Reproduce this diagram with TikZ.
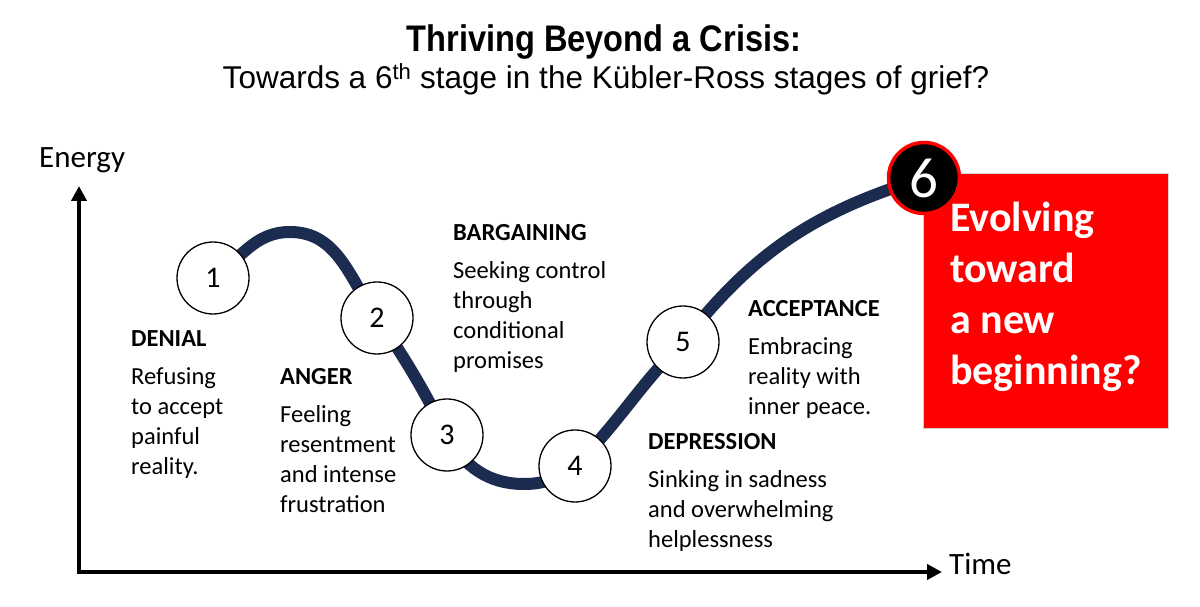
\documentclass[tikz,border=0pt]{standalone}
\usepackage{graphicx}
\usepackage{fontspec}
\setmainfont{Carlito}
\newfontfamily\titlefont{Liberation Sans}
\usetikzlibrary{arrows.meta,backgrounds}
\definecolor{navy}{RGB}{28,43,80}
\definecolor{boxred}{RGB}{255,0,0}
\begin{document}
\begin{tikzpicture}[x=1pt,y=1pt,
  stage/.style={circle,draw=black,line width=1.3pt,fill=white,minimum size=72pt,inner sep=0pt,font=\fontsize{30}{36}\selectfont},
  block/.style={anchor=base west,inner sep=0pt,text width=200pt,align=flush left,font=\fontsize{24.5}{30}\selectfont},
  axislabel/.style={anchor=base west,inner sep=0pt,font=\fontsize{31}{36}\selectfont},
  axisline/.style={line width=4pt,line join=miter,{Triangle[length=15pt,width=15pt]}-{Triangle[length=15pt,width=15pt]}},
  curveline/.style={line width=12pt,draw=navy}
]
\useasboundingbox (0,0) rectangle (1200,607);

% titles
\node[anchor=base,inner sep=0pt,font=\titlefont\bfseries\fontsize{37}{40}\selectfont] (title) at (604,555) {\scalebox{0.88}[1]{Thriving Beyond a Crisis:}};
\node[anchor=base,inner sep=0pt,font=\titlefont\fontsize{31.5}{36}\selectfont] (subtitle) at (606,518) {Towards a 6\textsuperscript{th} stage in the Kübler-Ross stages of grief?};

% axes
\coordinate (ytop) at (79,421);
\coordinate (origin) at (79,35);
\coordinate (xend) at (942,35);
\draw[axisline] (ytop) -- (origin) -- (xend);
\node[axislabel] (energy) at (39,439) {Energy};
\node[axislabel] (time) at (949,32) {Time};

% text blocks
\node[block] (denial) at (131,260) {\textbf{DENIAL}\\[8pt]Refusing\\to accept\\painful\\reality.};
\node[block] (anger) at (280,222) {\textbf{ANGER}\\[8pt]Feeling\\resentment\\and intense\\frustration};
\node[block] (bargaining) at (453,366) {\textbf{BARGAINING}\\[8pt]Seeking control\\through\\conditional\\promises};
\node[block] (acceptance) at (748,290) {\textbf{ACCEPTANCE}\\[8pt]Embracing\\reality with\\inner peace.};
\node[block] (depression) at (648,157) {\textbf{DEPRESSION}\\[8pt]Sinking in sadness\\and overwhelming\\helplessness};

% red box
\node[fill=boxred,draw=gray!35,line width=1pt,minimum width=245pt,minimum height=255pt,anchor=north west,inner sep=0pt] (box) at (923,434) {};
\node[anchor=base west,inner sep=0pt,text width=215pt,align=flush left,text=white,font=\bfseries\fontsize{42}{51}\selectfont] (boxtext) at (950,375) {Evolving\\toward\\a new\\beginning?};

% stages
\node[stage] (s1) at (213,329) {1};
\node[stage] (s2) at (377,289) {2};
\node[stage] (s3) at (447,172) {3};
\node[stage] (s4) at (575,141) {4};
\node[stage] (s5) at (683,265) {5};
\node[stage,fill=black,draw=red,line width=3.5pt,text=white,minimum size=71pt,font=\fontsize{57}{62}\selectfont] (s6) at (924,429) {6};

\coordinate (peak) at (290,375);
\coordinate (bottom) at (524,123);
\begin{scope}[on background layer]
\draw[curveline] (s1.center) to[out=35,in=180] (peak) to[out=0,in=125] (s2.center)
  to[out=-55,in=118] (s3.center) to[out=-62,in=180] (bottom) to[out=0,in=215] (s4.center)
  to[out=45,in=-135] (s5.center) to[out=52,in=197] (s6.center);
\end{scope}
\end{tikzpicture}
\end{document}
